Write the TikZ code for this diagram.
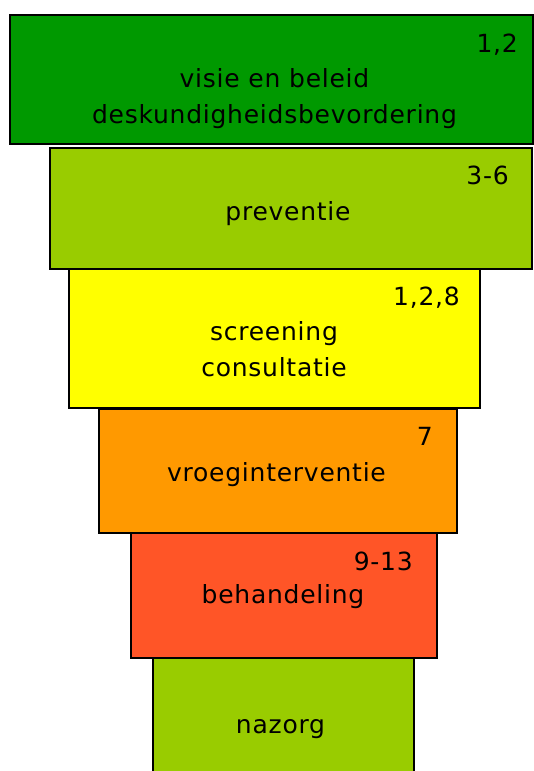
\documentclass[tikz,border=0pt]{standalone}
\usepackage{fontspec}
\setmainfont{DejaVu Sans}[LetterSpace=3.0]
\usepackage{tikz}
\usetikzlibrary{positioning}

\definecolor{donkergroen}{HTML}{009900}
\definecolor{lichtgroen}{HTML}{99CC00}
\definecolor{geel}{HTML}{FFFF00}
\definecolor{oranje}{HTML}{FF9900}
\definecolor{rood}{HTML}{FF5527}

\begin{document}
\begin{tikzpicture}[x = 1pt, y = -1pt,
            tier/.style = {draw, line width=1.8pt, inner sep=0pt, anchor=north west},
            txt/.style = {font=\fontsize{25}{36}\selectfont, inner sep=0pt, anchor=base, align=center},
            num/.style = {font=\fontsize{25}{36}\selectfont, inner sep=0pt, anchor=base east}]
            \useasboundingbox (0,0) rectangle (534,771);
            \node[tier, fill=donkergroen, minimum width=523pt, minimum height=129pt](beleid) at (9,14) {};
            \node[tier, fill=lichtgroen, minimum width=482pt, minimum height=121pt](preventie) at (49,147) {};
            \node[tier, fill=geel, minimum width=411pt, minimum height=139pt](screening) at (68,268) {};
            \node[tier, fill=oranje, minimum width=358pt, minimum height=124pt](vroeg) at (98,408) {};
            \node[tier, fill=rood, minimum width=306pt, minimum height=125pt](behandeling) at (130,532) {};
            \node[tier, fill=lichtgroen, minimum width=261pt, minimum height=140pt](nazorg) at (152,657) {};
            \node[num](n1) at (518,52) {1,2};
            \node[txt](t1) at (274.5,123.3) {visie en beleid\\deskundigheidsbevordering};
            \node[num](n2) at (509,184) {3-6};
            \node[txt](t2) at (288,220.7) {preventie};
            \node[num](n3) at (460,305) {1,2,8};
            \node[txt](t3) at (274,376) {screening\\consultatie};
            \node[num](n4) at (433,445.5) {7};
            \node[txt](t4) at (276.5,481) {vroeginterventie};
            \node[num](n5) at (413,570) {9-13};
            \node[txt](t5) at (283,603) {behandeling};
            \node[txt](t6) at (280.5,733) {nazorg};
        \end{tikzpicture}
\end{document}
